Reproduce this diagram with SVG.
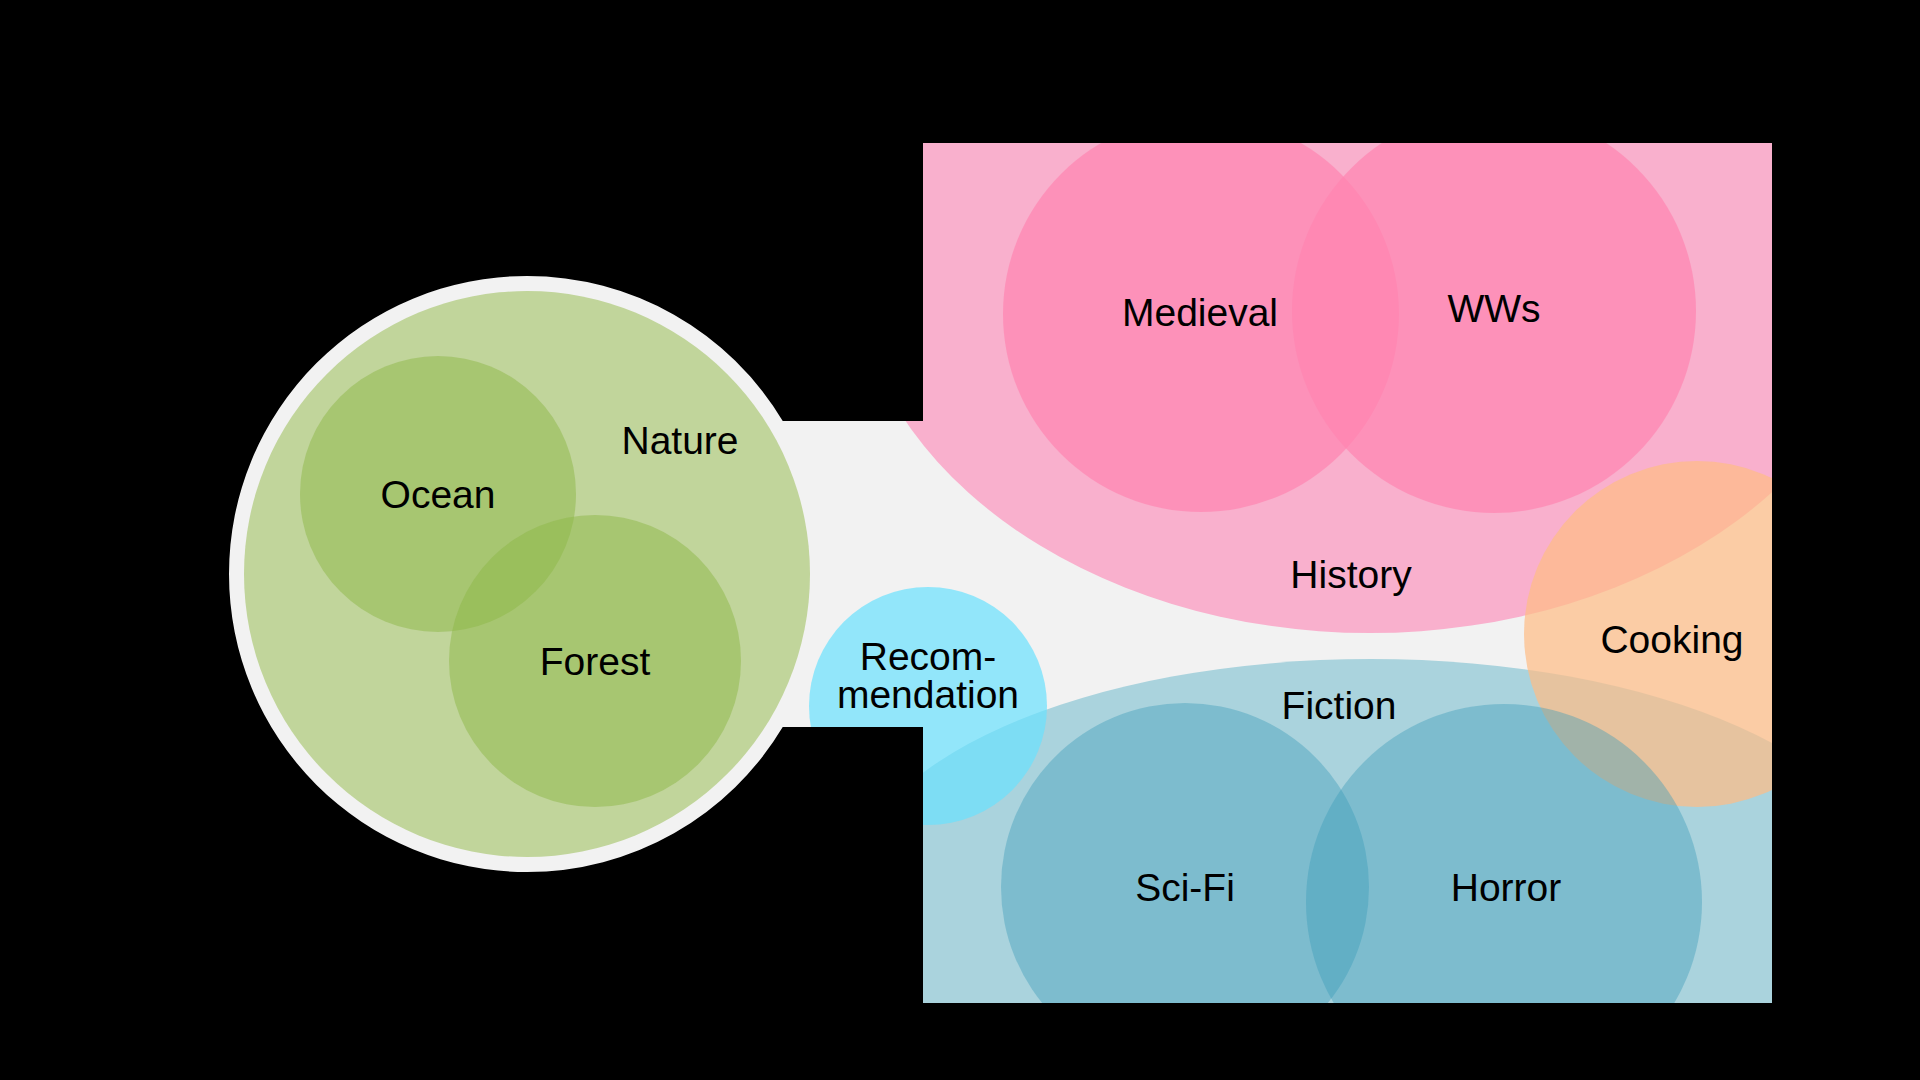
<svg xmlns="http://www.w3.org/2000/svg" width="1920" height="1080" viewBox="0 0 1920 1080">
<defs>
<clipPath id="area">
<circle cx="527" cy="574" r="298"/>
<rect x="527" y="421" width="400" height="306"/>
<rect x="923" y="143" width="849" height="860"/>
</clipPath>
<style>
text{font-family:"Liberation Sans",Arial,sans-serif;font-size:39px;fill:#000;text-anchor:middle}
.green{fill:#8db747;fill-opacity:0.5}
.pink{fill:#ff84b0;fill-opacity:0.7}
.blue{fill:#399cba;fill-opacity:0.4}
</style>
</defs>
<rect width="1920" height="1080" fill="#000"/>
<g clip-path="url(#area)">
<rect width="1920" height="1080" fill="#f2f2f2"/>
<g id="nature"><circle cx="527" cy="574" r="283" fill="#c1d59b"/><text x="680" y="454">Nature</text></g>
<g id="ocean"><circle class="green" cx="438" cy="494" r="138"/><text x="438" y="508">Ocean</text></g>
<g id="forest"><circle class="green" cx="595" cy="661" r="146"/><text x="595" y="675">Forest</text></g>
<g id="history"><ellipse cx="1370" cy="248" rx="520" ry="385" fill="#f9b0cd"/><text x="1351" y="588">History</text></g>
<g id="medieval"><circle class="pink" cx="1201" cy="314" r="198"/><text x="1200" y="326">Medieval</text></g>
<g id="wws"><circle class="pink" cx="1494" cy="311" r="202"/><text x="1494" y="322">WWs</text></g>
<g id="fiction"><ellipse cx="1371" cy="890" rx="520" ry="231" fill="#aad3dd"/><text x="1339" y="719">Fiction</text></g>
<g id="cooking"><circle cx="1697" cy="634" r="173" fill="#febc86" fill-opacity="0.72"/><text x="1672" y="653">Cooking</text></g>
<g id="scifi"><circle class="blue" cx="1185" cy="887" r="184"/><text x="1185" y="901">Sci-Fi</text></g>
<g id="horror"><circle class="blue" cx="1504" cy="902" r="198"/><text x="1506" y="901">Horror</text></g>
<g id="recommendation"><circle cx="928" cy="706" r="119" fill="#69e1fd" fill-opacity="0.7"/><text x="928" y="670">Recom-</text><text x="928" y="708">mendation</text></g>
</g>
<g id="connectors"/>
</svg>
